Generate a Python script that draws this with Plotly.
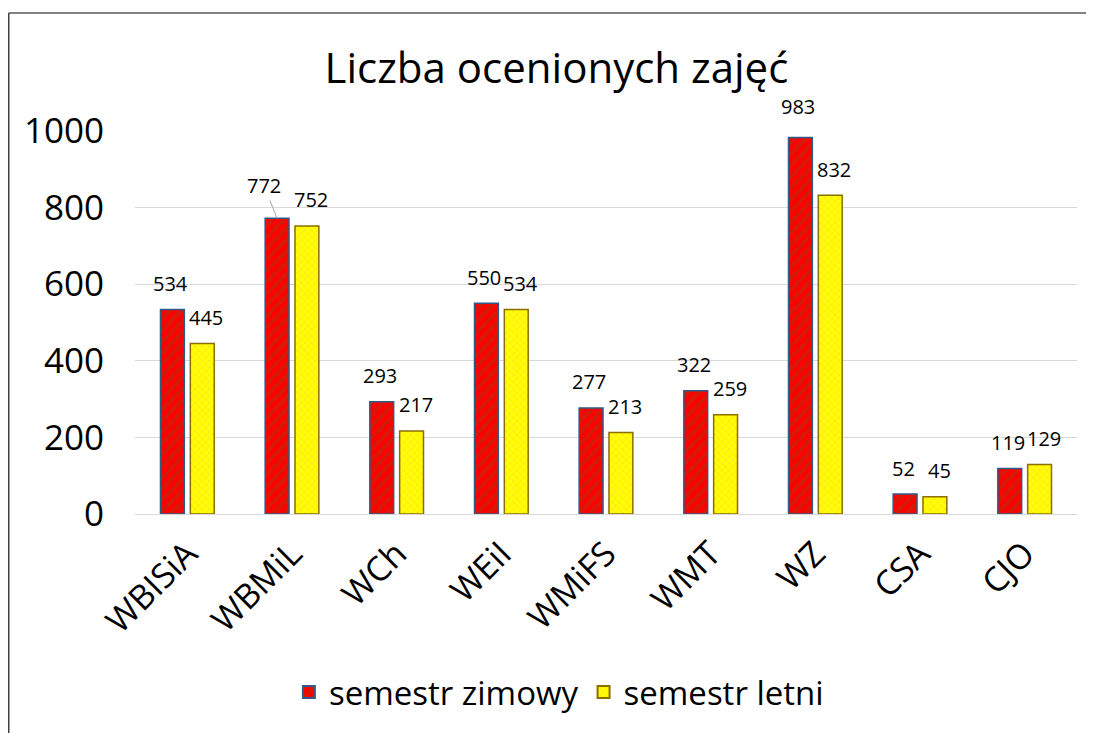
import plotly.graph_objects as go

# Data
categories = ["WBISiA", "WBMiL", "WCh", "WEiI", "WMiFS", "WMT", "WZ", "CSA", "CJO"]
winter = [534, 772, 293, 550, 277, 322, 983, 52, 119]
summer = [445, 752, 217, 534, 213, 259, 832, 45, 129]
y_ticks = [0, 200, 400, 600, 800, 1000]

FONT = "Open Sans"

fig = go.Figure()

fig.add_trace(go.Bar(
    name="semestr zimowy",
    x=categories,
    y=winter,
    marker=dict(
        color="#FF0000",
        line=dict(color="#2E5B8A", width=1.5),
        pattern=dict(shape="/", fgcolor="#9C3A12", bgcolor="#FF0000", size=8, solidity=0.4),
    ),
))
fig.add_trace(go.Bar(
    name="semestr letni",
    x=categories,
    y=summer,
    marker=dict(
        color="#FFFF00",
        line=dict(color="#8C6D00", width=1.5),
        pattern=dict(shape="x", fgcolor="#F6C84A", bgcolor="#FFFF00", size=5, solidity=0.3),
    ),
))

# data labels above the bars
LBL = dict(family=FONT, size=20, color="#000")
for i, cat in enumerate(categories):
    if i == 1:
        # label moved aside with a leader line
        fig.add_annotation(x=cat, y=winter[i], text=str(winter[i]), xshift=-15,
                           showarrow=True, arrowhead=0, arrowwidth=1, arrowcolor="#A6A6A6",
                           ax=-13, ay=-33, font=LBL)
    else:
        fig.add_annotation(x=cat, y=winter[i], text=str(winter[i]), xshift=-17,
                           yshift=31 if i == 6 else 26, showarrow=False, font=LBL)
    fig.add_annotation(x=cat, y=summer[i], text=str(summer[i]), xshift=19,
                       yshift=26, showarrow=False, font=LBL)

# chart frame (left and top edges)
fig.add_shape(type="line", xref="paper", yref="paper", x0=-0.1343, x1=-0.1343, y0=1.308, y1=-0.6,
              line=dict(color="#404040", width=2))
fig.add_shape(type="line", xref="paper", yref="paper", x0=-0.1343, x1=1.1, y0=1.308, y1=1.308,
              line=dict(color="#595959", width=1.5))

fig.update_layout(
    width=1086,
    height=725,
    margin=dict(l=127, r=17, t=123, b=219),
    paper_bgcolor="white",
    plot_bgcolor="white",
    barmode="group",
    bargap=0.43,
    bargroupgap=0.2,
    title=dict(
        text="Liczba ocenionych zajęć",
        x=0.505, xref="container", xanchor="center",
        y=0.917, yref="container", yanchor="middle",
        font=dict(family=FONT, size=42, color="#000"),
    ),
    legend=dict(
        orientation="h",
        x=0.45, xanchor="center",
        y=-0.465, yanchor="middle",
        font=dict(family=FONT, size=33, color="#000"),
        itemsizing="constant",
    ),
    font=dict(family=FONT, color="#000"),
)

fig.update_xaxes(
    tickangle=-45,
    tickfont=dict(family=FONT, size=34, color="#000"),
    ticklabelstandoff=12,
    showline=False,
    showgrid=False,
)
fig.update_yaxes(
    range=[0, 1000],
    tickvals=y_ticks,
    tickfont=dict(family=FONT, size=35, color="#000"),
    showgrid=True,
    gridcolor="#D9D9D9",
    gridwidth=1.3,
    zeroline=True,
    zerolinecolor="#D9D9D9",
    zerolinewidth=1.3,
    ticklabelstandoff=30,
    showline=False,
)

fig.write_html("out.html")
